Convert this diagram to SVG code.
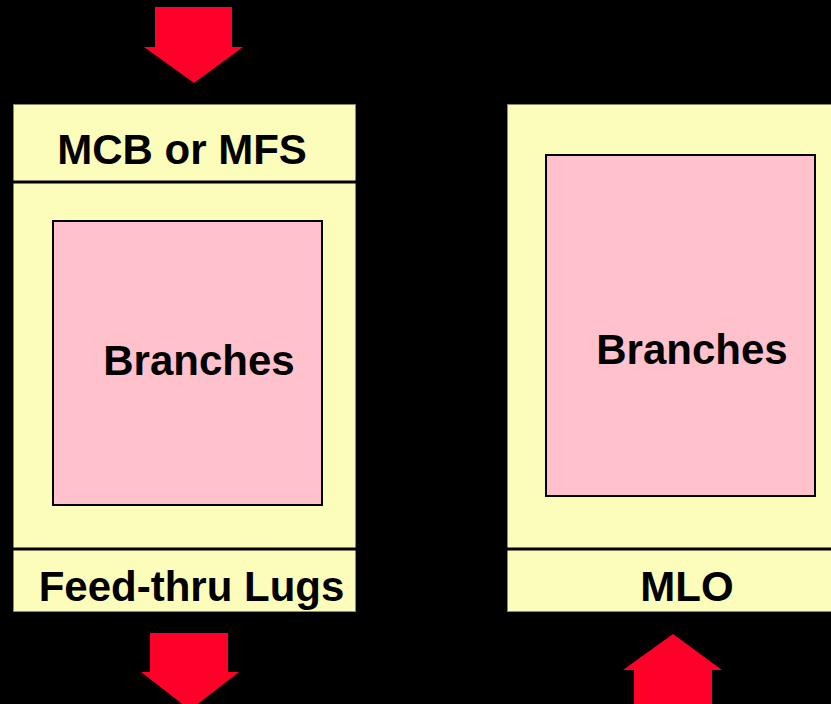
<svg xmlns="http://www.w3.org/2000/svg" width="831" height="704" viewBox="0 0 831 704">
  <style>
    .panel { fill: #fdfdbb; stroke: #8a8a60; stroke-width: 1; }
    .divider { stroke: #000; stroke-width: 3; }
    .inner { fill: #ffc1cc; stroke: #000; stroke-width: 2; }
    .arrow { fill: #ff0029; }
    .label { font-family: "Liberation Sans", Arial, sans-serif; font-weight: bold; font-size: 42px; fill: #000; }
  </style>
  <rect width="831" height="704" fill="#000"/>

  <!-- feed-thru panel -->
  <g id="feedthru-panel">
    <rect class="panel" x="13.5" y="104.5" width="342" height="507"/>
    <line class="divider" x1="13" y1="182" x2="356" y2="182"/>
    <line class="divider" x1="13" y1="549" x2="356" y2="549"/>
    <text class="label" x="182" y="164" text-anchor="middle">MCB or MFS</text>
    <text class="label" x="191.5" y="601" text-anchor="middle">Feed-thru Lugs</text>
  </g>
  <g id="feedthru-branches">
    <rect class="inner" x="53" y="221" width="269" height="284"/>
    <text class="label" x="199" y="375" text-anchor="middle">Branches</text>
  </g>

  <!-- main lug panel -->
  <g id="mlo-panel">
    <rect class="panel" x="507.5" y="104.5" width="330" height="507"/>
    <line class="divider" x1="507" y1="549" x2="831" y2="549"/>
    <text class="label" x="687" y="601" text-anchor="middle">MLO</text>
  </g>
  <g id="mlo-branches">
    <rect class="inner" x="546" y="155" width="269" height="341"/>
    <text class="label" x="692" y="364" text-anchor="middle">Branches</text>
  </g>

  <!-- feed arrows -->
  <g id="connectors">
    <polygon class="arrow" points="155,7 232,7 232,47 243,47 194,83 144,47 155,47"/>
    <polygon class="arrow" points="150,633 228,633 228,672 239,672 190,710 141,672 150,672"/>
    <polygon class="arrow" points="673,634 722,670 712,670 712,704 634,704 634,670 623,670"/>
  </g>
</svg>
